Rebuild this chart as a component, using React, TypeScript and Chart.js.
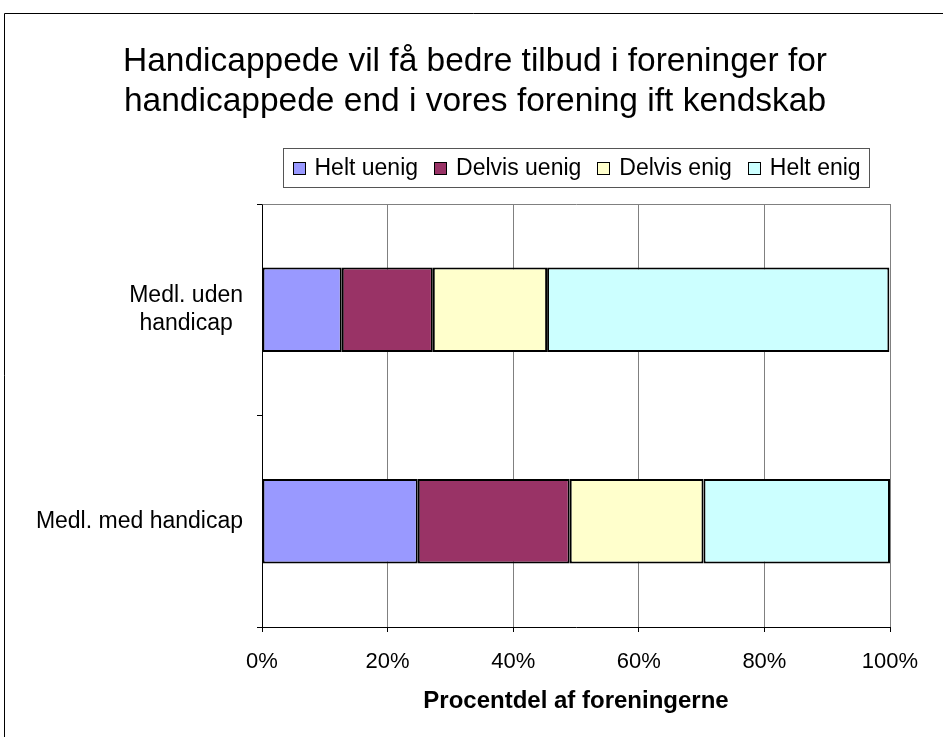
import React, { useEffect, useRef } from 'react';
import { Chart, registerables } from 'chart.js';

Chart.register(...registerables);

const FONT = '"Liberation Sans", Arial, sans-serif';

const TITLE_LINES = [
  'Handicappede vil få bedre tilbud i foreninger for',
  'handicappede end i vores forening ift kendskab',
];
const CATEGORIES: string[][] = [['Medl. uden', 'handicap'], ['Medl. med handicap']];
const SERIES_NAMES = ['Helt uenig', 'Delvis uenig', 'Delvis enig', 'Helt enig'];
const HELT_UENIG = [12.7, 24.8];
const DELVIS_UENIG = [14.5, 24.2];
const DELVIS_ENIG = [18.2, 21.3];
const HELT_ENIG = [54.5, 29.7];
const SERIES_COLORS = ['#9999FF', '#993366', '#FFFFCC', '#CCFFFF'];
const X_TICKS = [0, 20, 40, 60, 80, 100];
const X_TITLE = 'Procentdel af foreningerne';

const decor = {
  id: 'decor',
  beforeDraw(chart: any) {
    const ctx = chart.ctx;
    ctx.save();
    ctx.fillStyle = '#fff';
    ctx.fillRect(0, 0, chart.width, chart.height);
    ctx.strokeStyle = '#000';
    ctx.lineWidth = 1;
    ctx.beginPath();
    ctx.moveTo(4.5, chart.height);
    ctx.lineTo(4.5, 13.5);
    ctx.lineTo(chart.width, 13.5);
    ctx.stroke();
    ctx.restore();
  },
  beforeDatasetsDraw(chart: any) {
    const { ctx, chartArea } = chart;
    ctx.save();
    ctx.strokeStyle = '#808080';
    ctx.lineWidth = 1;
    ctx.beginPath();
    ctx.moveTo(Math.round(chartArea.left) + 0.5, Math.round(chartArea.top) + 0.5);
    ctx.lineTo(Math.round(chartArea.right) + 0.5, Math.round(chartArea.top) + 0.5);
    ctx.lineTo(Math.round(chartArea.right) + 0.5, Math.round(chartArea.bottom));
    ctx.stroke();
    ctx.restore();
  },
  afterDraw(chart: any) {
    const { ctx, chartArea } = chart;
    ctx.save();
    // Title
    ctx.fillStyle = '#000';
    ctx.font = `33.5px ${FONT}`;
    ctx.textAlign = 'center';
    ctx.textBaseline = 'middle';
    TITLE_LINES.forEach((t, i) => ctx.fillText(t, 475, 62 + i * 40));

    // Legend
    ctx.font = `23px ${FONT}`;
    const pad = 9, sq = 13, gap = 9, itemGap = 16;
    const widths = SERIES_NAMES.map((n) => ctx.measureText(n).width);
    const total = pad * 2 + widths.reduce((a, w) => a + sq + gap + w, 0) + itemGap * (SERIES_NAMES.length - 1);
    const cx = (chartArea.left + chartArea.right) / 2;
    const bx = Math.round(cx - total / 2) + 0.5;
    const by = 148.5, bh = 39;
    ctx.strokeStyle = '#555';
    ctx.lineWidth = 1;
    ctx.strokeRect(bx, by, Math.round(total), bh);
    let x = bx + pad;
    const my = by + bh / 2;
    ctx.textAlign = 'left';
    SERIES_NAMES.forEach((n, i) => {
      ctx.fillStyle = SERIES_COLORS[i];
      ctx.fillRect(Math.round(x), Math.round(my - sq / 2), sq, sq);
      ctx.strokeStyle = '#000';
      ctx.strokeRect(Math.round(x) + 0.5, Math.round(my - sq / 2) + 0.5, sq - 1, sq - 1);
      x += sq + gap;
      ctx.fillStyle = '#000';
      ctx.fillText(n, x, my + 1);
      x += widths[i] + itemGap;
    });

    // Y category labels (centered lines, right-aligned block)
    const yScale = chart.scales.y;
    ctx.font = `23px ${FONT}`;
    ctx.textAlign = 'center';
    const right = chartArea.left - 19;
    const lh = 28;
    CATEGORIES.forEach((lines, i) => {
      const yc = yScale.getPixelForValue(i);
      const maxW = Math.max(...lines.map((l) => ctx.measureText(l).width));
      const lx = right - maxW / 2;
      lines.forEach((l, j) => {
        ctx.fillText(l, lx, yc + (j - (lines.length - 1) / 2) * lh);
      });
    });
    ctx.restore();
  },
};

export default function App() {
  const ref = useRef<HTMLCanvasElement>(null);
  useEffect(() => {
    if (!ref.current) return;
    const seriesData = [HELT_UENIG, DELVIS_UENIG, DELVIS_ENIG, HELT_ENIG];
    const chart = new Chart(ref.current, {
      type: 'bar',
      data: {
        labels: CATEGORIES.map((c) => c.join(' ')),
        datasets: SERIES_NAMES.map((name, i) => ({
          label: name,
          data: seriesData[i],
          backgroundColor: SERIES_COLORS[i],
          borderColor: '#000',
          borderWidth: 2,
          borderSkipped: false,
          barPercentage: 0.4,
          categoryPercentage: 1,
        })),
      },
      options: {
        indexAxis: 'y',
        responsive: false,
        animation: false,
        devicePixelRatio: 1,
        layout: { padding: { left: 0, top: 204, right: 53, bottom: 21 } },
        plugins: {
          legend: { display: false },
          title: { display: false },
          tooltip: { enabled: false },
        },
        scales: {
          x: {
            type: 'linear',
            stacked: true,
            min: 0,
            max: 100,
            afterBuildTicks: (s: any) => {
              s.ticks = X_TICKS.map((v) => ({ value: v }));
            },
            afterFit: (s: any) => {
              s.height = 89;
            },
            ticks: {
              callback: (v: any) => `${v}%`,
              font: { size: 22, family: FONT },
              color: '#000',
              padding: 17,
            },
            grid: { color: '#808080', tickColor: '#000', tickLength: 5, lineWidth: 1 },
            border: { color: '#000', width: 1 },
            title: {
              display: true,
              text: X_TITLE,
              font: { size: 24, weight: 'bold', family: FONT },
              color: '#000',
              padding: 0,
            },
          },
          y: {
            type: 'category',
            stacked: true,
            offset: true,
            afterFit: (s: any) => {
              s.width = 262;
            },
            ticks: { display: false },
            grid: { offset: true, drawOnChartArea: false, tickLength: 5, color: '#000' },
            border: { color: '#000', width: 1 },
          },
        },
      },
      plugins: [decor],
    } as any);
    return () => chart.destroy();
  }, []);
  return (
    <div style={{ position: 'absolute', left: 0, top: 0, width: 943, height: 737 }}>
      <canvas ref={ref} width={943} height={737} />
    </div>
  );
}
